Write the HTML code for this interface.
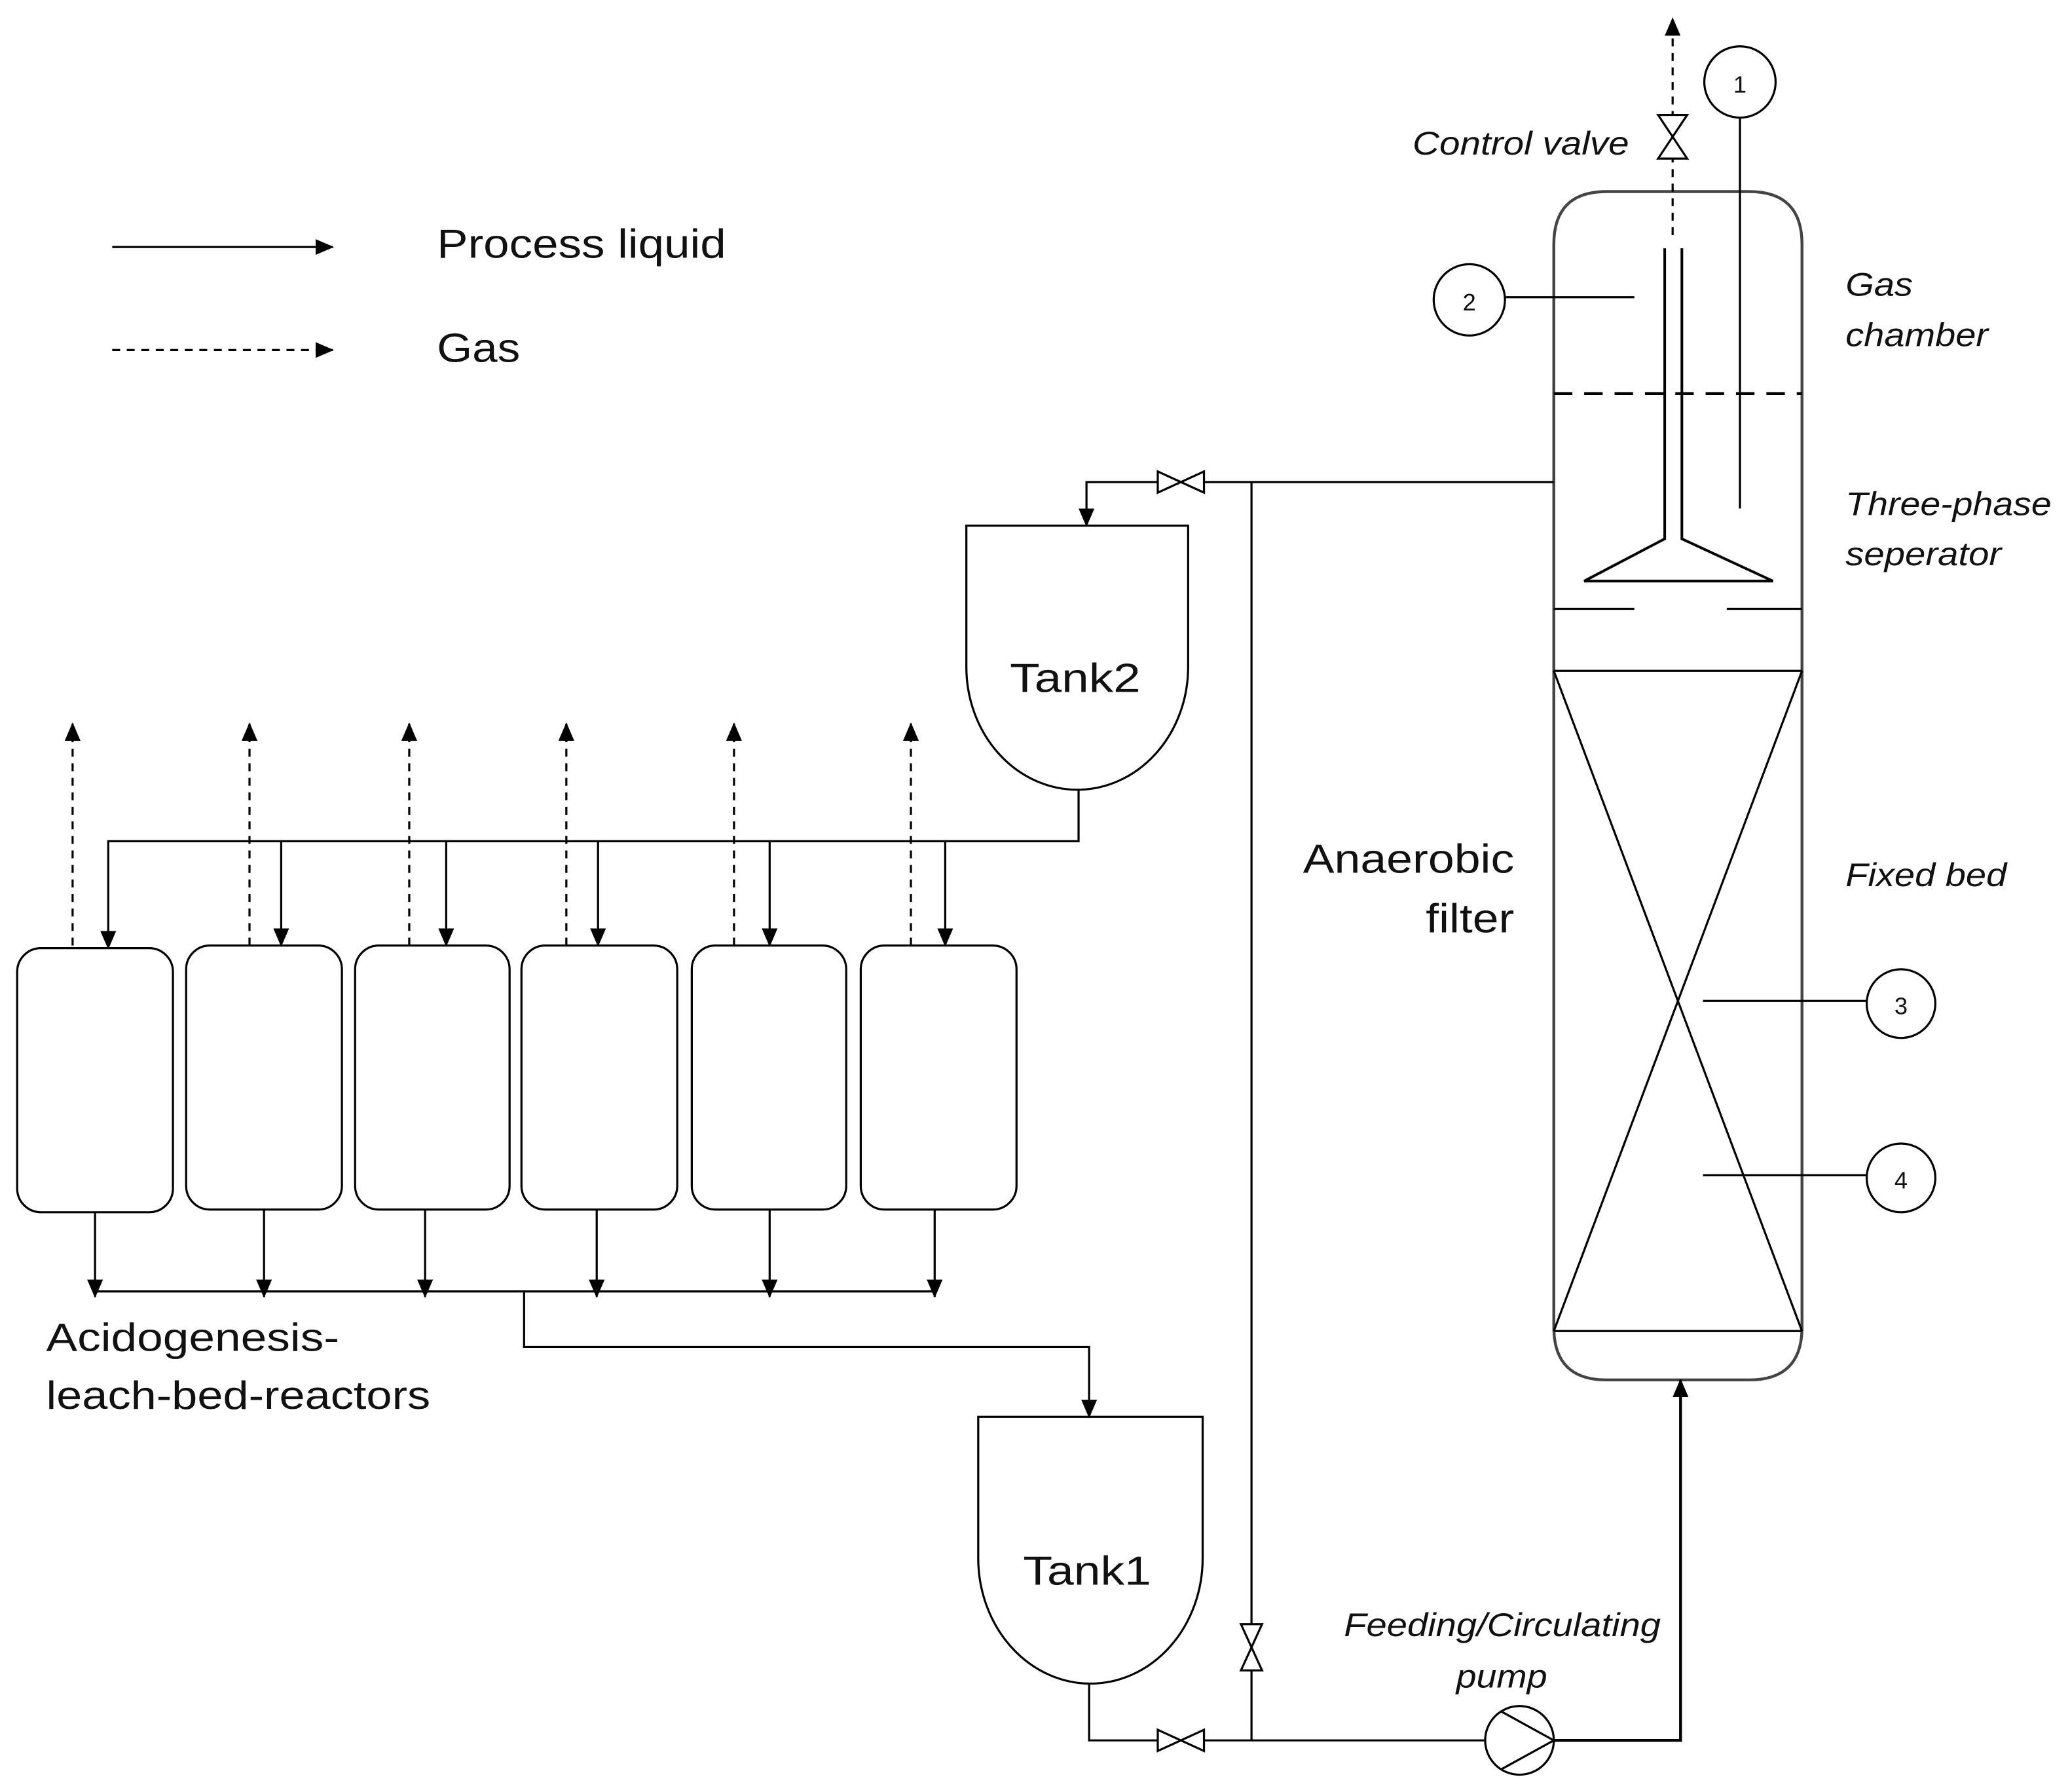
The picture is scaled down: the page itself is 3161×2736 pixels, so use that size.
<!DOCTYPE html>
<html><head><meta charset="utf-8"><style>
html,body{margin:0;padding:0;background:#fff;}
svg{display:block;}
text{font-family:"Liberation Sans",Arial,sans-serif;fill:#111;}
.it{font-style:italic;font-size:25px;}
</style></head><body>
<svg width="3161" height="2736" viewBox="0 0 1568 1357" xmlns="http://www.w3.org/2000/svg">
<defs>
<marker id="a" viewBox="0 0 14 12" refX="13" refY="6" markerWidth="14" markerHeight="12" markerUnits="userSpaceOnUse" orient="auto">
<path d="M0,0 L14,6 L0,12 Z" fill="#000"/>
</marker>
</defs>
<g fill="none" stroke="#000" stroke-width="1.6">
<line x1="85" y1="187" x2="252" y2="187" marker-end="url(#a)"/>
<line x1="85" y1="265" x2="252" y2="265" stroke-dasharray="6,5" marker-end="url(#a)"/>

<path d="M1177,1005 V185 Q1177,145 1217,145 H1325 Q1365,145 1365,185 V1005 Q1365,1045 1325,1045 H1217 Q1177,1045 1177,1005 Z" stroke-width="2.2" stroke="#444"/>
<line x1="1177" y1="298" x2="1365" y2="298" stroke-dasharray="14,9" stroke-width="2"/>
<line x1="1177" y1="461" x2="1238" y2="461"/>
<line x1="1308" y1="461" x2="1365" y2="461"/>
<line x1="1177" y1="508" x2="1365" y2="508"/>
<line x1="1177" y1="1008" x2="1365" y2="1008"/>
<line x1="1177" y1="508" x2="1365" y2="1008"/>
<line x1="1365" y1="508" x2="1177" y2="1008"/>
<path d="M1261,188 V408 L1200,440 H1343 L1274,408 V188" stroke-width="2"/>
<line x1="1267" y1="178" x2="1267" y2="14" stroke-dasharray="6,5" marker-end="url(#a)"/>
<path d="M1256,87 H1278 L1256,120 H1278 Z" fill="#fff"/>
<circle cx="1318" cy="62" r="27" fill="#fff"/>
<line x1="1318" y1="89" x2="1318" y2="385"/>
<circle cx="1113" cy="227" r="27"/>
<line x1="1140" y1="225" x2="1238" y2="225"/>
<circle cx="1440" cy="760" r="26"/>
<line x1="1290" y1="758" x2="1414" y2="758"/>
<circle cx="1440" cy="892" r="26"/>
<line x1="1290" y1="890" x2="1414" y2="890"/>

<polyline points="1177,365 912,365"/>
<path d="M877,357 V373 L912,357 V373 Z"/>
<polyline points="877,365 823,365 823,398" marker-end="url(#a)"/>
<line x1="948" y1="365" x2="948" y2="1318"/>
<path d="M940,1230 H956 L940,1265 H956 Z" fill="#fff"/>

<path d="M732,398 H900 V505 A84,93 0 0 1 732,505 Z"/>
<polyline points="817,598 817,637 82,637 82,718" marker-end="url(#a)"/>
<line x1="213" y1="637" x2="213" y2="716" marker-end="url(#a)"/>
<line x1="338" y1="637" x2="338" y2="716" marker-end="url(#a)"/>
<line x1="453" y1="637" x2="453" y2="716" marker-end="url(#a)"/>
<line x1="583" y1="637" x2="583" y2="716" marker-end="url(#a)"/>
<line x1="716" y1="637" x2="716" y2="716" marker-end="url(#a)"/>

<rect x="13" y="718" width="118" height="200" rx="18"/>
<rect x="141" y="716" width="118" height="200" rx="18"/>
<rect x="269" y="716" width="117" height="200" rx="18"/>
<rect x="395" y="716" width="118" height="200" rx="18"/>
<rect x="524" y="716" width="117" height="200" rx="18"/>
<rect x="652" y="716" width="118" height="200" rx="18"/>
<g stroke-dasharray="6,5">
<line x1="55" y1="716" x2="55" y2="548" marker-end="url(#a)"/>
<line x1="189" y1="716" x2="189" y2="548" marker-end="url(#a)"/>
<line x1="310" y1="716" x2="310" y2="548" marker-end="url(#a)"/>
<line x1="429" y1="716" x2="429" y2="548" marker-end="url(#a)"/>
<line x1="556" y1="716" x2="556" y2="548" marker-end="url(#a)"/>
<line x1="690" y1="716" x2="690" y2="548" marker-end="url(#a)"/>
</g>
<line x1="72" y1="918" x2="72" y2="982" marker-end="url(#a)"/>
<line x1="200" y1="916" x2="200" y2="982" marker-end="url(#a)"/>
<line x1="322" y1="916" x2="322" y2="982" marker-end="url(#a)"/>
<line x1="452" y1="916" x2="452" y2="982" marker-end="url(#a)"/>
<line x1="583" y1="916" x2="583" y2="982" marker-end="url(#a)"/>
<line x1="708" y1="916" x2="708" y2="982" marker-end="url(#a)"/>
<line x1="72" y1="978" x2="708" y2="978"/>
<polyline points="397,978 397,1020 825,1020 825,1073" marker-end="url(#a)"/>

<path d="M741,1073 H911 V1180 A85,95 0 0 1 741,1180 Z"/>
<polyline points="825,1275 825,1318 877,1318"/>
<path d="M877,1310 V1326 L912,1310 V1326 Z"/>
<line x1="912" y1="1318" x2="1125" y2="1318"/>
<circle cx="1151" cy="1318" r="26"/>
<path d="M1137,1296 L1177,1318 L1137,1340"/>
<polyline points="1177,1318 1273,1318 1273,1045" stroke-width="2.2" marker-end="url(#a)"/>
</g>

<text x="331" y="195" font-size="31" textLength="219" lengthAdjust="spacingAndGlyphs">Process liquid</text>
<text x="331" y="274" font-size="31" textLength="63" lengthAdjust="spacingAndGlyphs">Gas</text>
<text x="1318" y="70" font-size="18" text-anchor="middle">1</text>
<text x="1113" y="235" font-size="18" text-anchor="middle">2</text>
<text x="1440" y="768" font-size="18" text-anchor="middle">3</text>
<text x="1440" y="900" font-size="18" text-anchor="middle">4</text>
<text class="it" x="1070" y="117" textLength="164" lengthAdjust="spacingAndGlyphs">Control valve</text>
<text class="it" x="1398" y="224" textLength="51" lengthAdjust="spacingAndGlyphs">Gas</text>
<text class="it" x="1398" y="262" textLength="108" lengthAdjust="spacingAndGlyphs">chamber</text>
<text class="it" x="1398" y="390" textLength="156" lengthAdjust="spacingAndGlyphs">Three-phase</text>
<text class="it" x="1398" y="428" textLength="118" lengthAdjust="spacingAndGlyphs">seperator</text>
<text class="it" x="1398" y="671" textLength="122" lengthAdjust="spacingAndGlyphs">Fixed bed</text>
<text class="it" x="1018" y="1239" textLength="240" lengthAdjust="spacingAndGlyphs">Feeding/Circulating</text>
<text class="it" x="1103" y="1278" textLength="69" lengthAdjust="spacingAndGlyphs">pump</text>
<text x="987" y="661" font-size="31" textLength="160" lengthAdjust="spacingAndGlyphs">Anaerobic</text>
<text x="1080" y="706" font-size="31" textLength="67" lengthAdjust="spacingAndGlyphs">filter</text>
<text x="765" y="524" font-size="31" textLength="99" lengthAdjust="spacingAndGlyphs">Tank2</text>
<text x="775" y="1200" font-size="31" textLength="97" lengthAdjust="spacingAndGlyphs">Tank1</text>
<text x="35" y="1023" font-size="30" textLength="222" lengthAdjust="spacingAndGlyphs">Acidogenesis-</text>
<text x="35" y="1067" font-size="30" textLength="291" lengthAdjust="spacingAndGlyphs">leach-bed-reactors</text>
</svg>
</body></html>
